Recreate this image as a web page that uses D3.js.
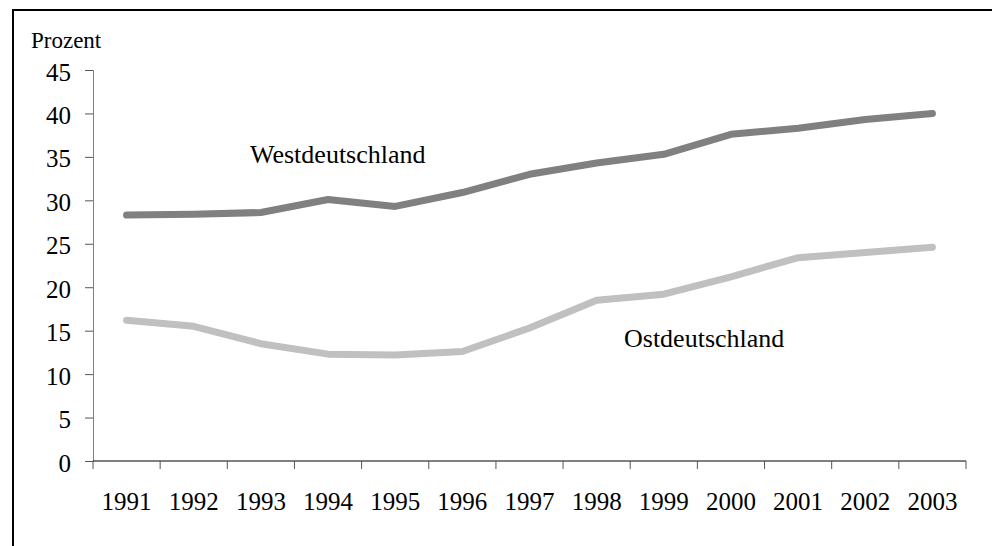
<!DOCTYPE html>
<html>
<head>
<meta charset="utf-8">
<script src="https://cdn.jsdelivr.net/npm/d3@7"></script>
<style>
  body { margin: 0; background: #fff; }
  text { font-family: "Liberation Serif", "Times New Roman", serif; fill: #000; }
</style>
</head>
<body>
<script>
const wid = 992, hei = 546;
const years = ['1991','1992','1993','1994','1995','1996','1997','1998','1999','2000','2001','2002','2003'];
const west = [28.3, 28.4, 28.6, 30.1, 29.3, 30.9, 33.0, 34.3, 35.3, 37.6, 38.3, 39.3, 40.0];
const ost  = [16.2, 15.5, 13.5, 12.3, 12.2, 12.6, 15.3, 18.5, 19.2, 21.2, 23.4, 24.0, 24.6];
const yTicks = [0, 5, 10, 15, 20, 25, 30, 35, 40, 45];

const plotL = 93, plotR = 966, plotT = 70, plotB = 461;

let svg = d3.select('body').append('svg')
    .attr('width', wid)
    .attr('height', hei);

// frame (runs off the right and bottom edge)
svg.append('rect')
    .attr('x', 13).attr('y', 10)
    .attr('width', 1000).attr('height', 600)
    .attr('fill', 'none')
    .attr('stroke', '#000')
    .attr('stroke-width', 2);

let x = d3.scaleBand().domain(years).range([plotL, plotR]);
let y = d3.scaleLinear().domain([0, 45]).range([plotB, plotT]);

// y axis
let yAxis = svg.append('g')
    .attr('transform', `translate(${plotL},0)`)
    .call(d3.axisLeft(y).tickValues(yTicks).tickSize(8).tickPadding(14));
yAxis.select('.domain').attr('stroke', '#808080');
yAxis.selectAll('.tick line').attr('stroke', '#555');
yAxis.selectAll('.tick text')
    .attr('font-size', 25)
    .attr('font-family', '"Liberation Serif", serif')
    .attr('fill', '#000')
    .attr('dy', '0.4em');

// x axis: tick marks at band edges, labels at band centres
let edges = years.map(d => x(d)).concat([x.range()[1]]);
let xg = svg.append('g').attr('transform', `translate(0,${plotB})`);
xg.append('line')
    .attr('x1', plotL).attr('x2', plotR)
    .attr('stroke', '#000');
xg.selectAll('line.tk')
    .data(edges)
    .enter()
    .append('line')
    .attr('class', 'tk')
    .attr('x1', d => d).attr('x2', d => d)
    .attr('y1', 0).attr('y2', 8)
    .attr('stroke', '#555');
xg.selectAll('text')
    .data(years)
    .enter()
    .append('text')
    .attr('x', d => x(d) + x.bandwidth() / 2)
    .attr('y', 49)
    .attr('text-anchor', 'middle')
    .attr('font-size', 25)
    .text(d => d);

svg.append('text')
    .attr('x', 31).attr('y', 48)
    .attr('font-size', 23)
    .text('Prozent');

let line = d3.line()
    .x((d, i) => x(years[i]) + x.bandwidth() / 2)
    .y(d => y(d));

svg.append('path')
    .datum(west)
    .attr('d', line)
    .attr('fill', 'none')
    .attr('stroke', '#808080')
    .attr('stroke-width', 7)
    .attr('stroke-linecap', 'round')
    .attr('stroke-linejoin', 'round');

svg.append('path')
    .datum(ost)
    .attr('d', line)
    .attr('fill', 'none')
    .attr('stroke', '#c0c0c0')
    .attr('stroke-width', 7)
    .attr('stroke-linecap', 'round')
    .attr('stroke-linejoin', 'round');

svg.append('text')
    .attr('x', 250).attr('y', 163)
    .attr('font-size', 26)
    .text('Westdeutschland');

svg.append('text')
    .attr('x', 624).attr('y', 347)
    .attr('font-size', 26)
    .text('Ostdeutschland');
</script>
</body>
</html>
